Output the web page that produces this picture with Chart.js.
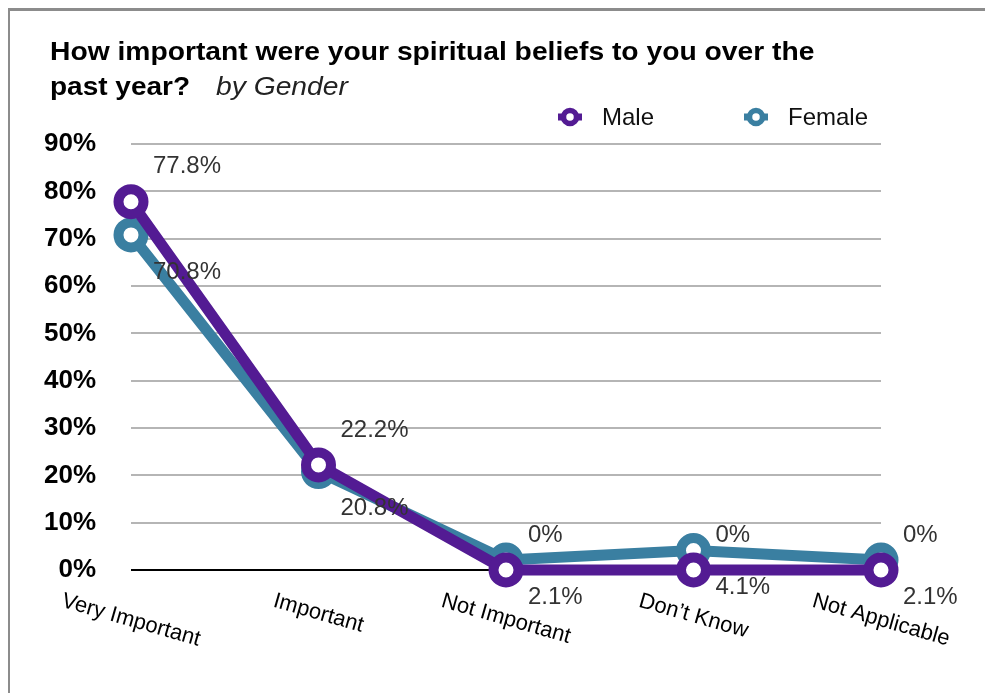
<!DOCTYPE html>
<html>
<head>
<meta charset="utf-8">
<script src="https://cdn.jsdelivr.net/npm/chart.js@4/dist/chart.umd.min.js"></script>
<style>
  html, body { margin: 0; padding: 0; background: #fff; }
  #wrap { position: relative; width: 985px; height: 693px; }
</style>
</head>
<body>
<div id="wrap"><canvas id="chart" width="985" height="693"></canvas></div>
<script>
// Chart data
const categories = ['Very Important', 'Important', 'Not Important', 'Don\u2019t Know', 'Not Applicable'];
const maleValues = [77.8, 22.2, 0, 0, 0];
const femaleValues = [70.8, 20.8, 2.1, 4.1, 2.1];
const yTicks = [0, 10, 20, 30, 40, 50, 60, 70, 80, 90];
const seriesNames = ['Male', 'Female'];

const MALE = '#531B93';
const FEMALE = '#3A7FA1';
const FONT = '"Liberation Sans", Arial, Helvetica, sans-serif';

// text drawn a little wider, like the wide sans of the original title
function wideText(ctx, text, x, y, sx) {
  ctx.save();
  ctx.translate(x, y);
  ctx.scale(sx, 1);
  ctx.fillText(text, 0, 0);
  ctx.restore();
}

// Draws frame, title, legend, rotated category labels and value labels
const overlay = {
  id: 'overlay',
  beforeDraw(chart) {
    const ctx = chart.ctx;
    ctx.save();
    ctx.fillStyle = '#8c8c8c';
    ctx.fillRect(8, 8, chart.width - 8, 3);
    ctx.fillRect(8, 8, 2, chart.height - 8);
    ctx.restore();
  },
  afterDatasetsDraw(chart) {
    const ctx = chart.ctx;
    ctx.save();
    ctx.font = '24px ' + FONT;
    ctx.fillStyle = '#333';
    ctx.textAlign = 'left';
    ctx.textBaseline = 'middle';
    chart.getDatasetMeta(0).data.forEach((pt, i) => {
      ctx.fillText(maleValues[i] + '%', pt.x + 22, pt.y - 35);
    });
    chart.getDatasetMeta(1).data.forEach((pt, i) => {
      ctx.fillText(femaleValues[i] + '%', pt.x + 22, pt.y + 37);
    });
    ctx.restore();
  },
  afterDraw(chart) {
    const ctx = chart.ctx;
    const xScale = chart.scales.x;
    ctx.save();

    // category labels, tilted, box top at a fixed line
    const angle = 16 * Math.PI / 180;
    const fs = 22;
    const top = chart.chartArea.bottom + 20;
    ctx.font = fs + 'px ' + FONT;
    ctx.fillStyle = '#000';
    ctx.textAlign = 'center';
    ctx.textBaseline = 'middle';
    categories.forEach((label, i) => {
      const w = ctx.measureText(label).width;
      const cx = xScale.getPixelForValue(i);
      const cy = top + (w / 2) * Math.sin(angle) + (fs / 2) * Math.cos(angle);
      ctx.save();
      ctx.translate(cx, cy);
      ctx.rotate(angle);
      ctx.fillText(label, 0, 0);
      ctx.restore();
    });

    // title
    ctx.textAlign = 'left';
    ctx.textBaseline = 'alphabetic';
    ctx.fillStyle = '#000';
    ctx.font = 'bold 25px ' + FONT;
    wideText(ctx, 'How important were your spiritual beliefs to you over the', 50, 60, 1.13);
    wideText(ctx, 'past year?', 50, 95, 1.12);
    ctx.font = 'italic 25px ' + FONT;
    ctx.fillStyle = '#222';
    wideText(ctx, 'by Gender', 216, 95, 1.13);

    // legend
    const items = [
      { name: seriesNames[0], color: MALE, x: 570 },
      { name: seriesNames[1], color: FEMALE, x: 756 }
    ];
    const ly = 117;
    ctx.font = '24px ' + FONT;
    ctx.textBaseline = 'middle';
    items.forEach(it => {
      ctx.strokeStyle = it.color;
      ctx.lineWidth = 7;
      ctx.beginPath();
      ctx.moveTo(it.x - 12, ly);
      ctx.lineTo(it.x + 12, ly);
      ctx.stroke();
      ctx.lineWidth = 5.5;
      ctx.fillStyle = '#fff';
      ctx.beginPath();
      ctx.arc(it.x, ly, 6.5, 0, Math.PI * 2);
      ctx.fill();
      ctx.stroke();
      ctx.fillStyle = '#111';
      ctx.fillText(it.name, it.x + 32, ly + 1);
    });
    ctx.restore();
  }
};

const lineStyle = (color) => ({
  borderColor: color,
  backgroundColor: color,
  borderWidth: 11,
  tension: 0,
  pointRadius: 12.5,
  pointHoverRadius: 12.5,
  pointBorderWidth: 10,
  pointBorderColor: color,
  pointBackgroundColor: '#fff',
  clip: false
});

new Chart(document.getElementById('chart').getContext('2d'), {
  type: 'line',
  data: {
    labels: categories,
    datasets: [
      { label: seriesNames[0], data: maleValues, ...lineStyle(MALE) },
      { label: seriesNames[1], data: femaleValues, ...lineStyle(FEMALE) }
    ]
  },
  options: {
    responsive: false,
    animation: false,
    layout: { padding: { top: 144, right: 104, bottom: 0, left: 0 } },
    plugins: {
      legend: { display: false },
      title: { display: false },
      tooltip: { enabled: false }
    },
    scales: {
      x: {
        offset: false,
        grid: { display: false },
        border: { display: false },
        ticks: { display: false },
        afterFit: (scale) => { scale.height = 123; }
      },
      y: {
        min: 0,
        max: 90,
        afterBuildTicks: (scale) => { scale.ticks = yTicks.map(v => ({ value: v })); },
        border: { display: false },
        grid: {
          drawTicks: false,
          lineWidth: 2,
          color: (c) => (c.tick && c.tick.value === 0 ? '#000' : '#b5b5b5')
        },
        ticks: {
          padding: 35,
          color: '#000',
          font: { family: FONT, size: 26, weight: 'bold' },
          callback: (v) => v + '%'
        },
        afterFit: (scale) => { scale.width = 131; }
      }
    }
  },
  plugins: [overlay]
});
</script>
</body>
</html>
